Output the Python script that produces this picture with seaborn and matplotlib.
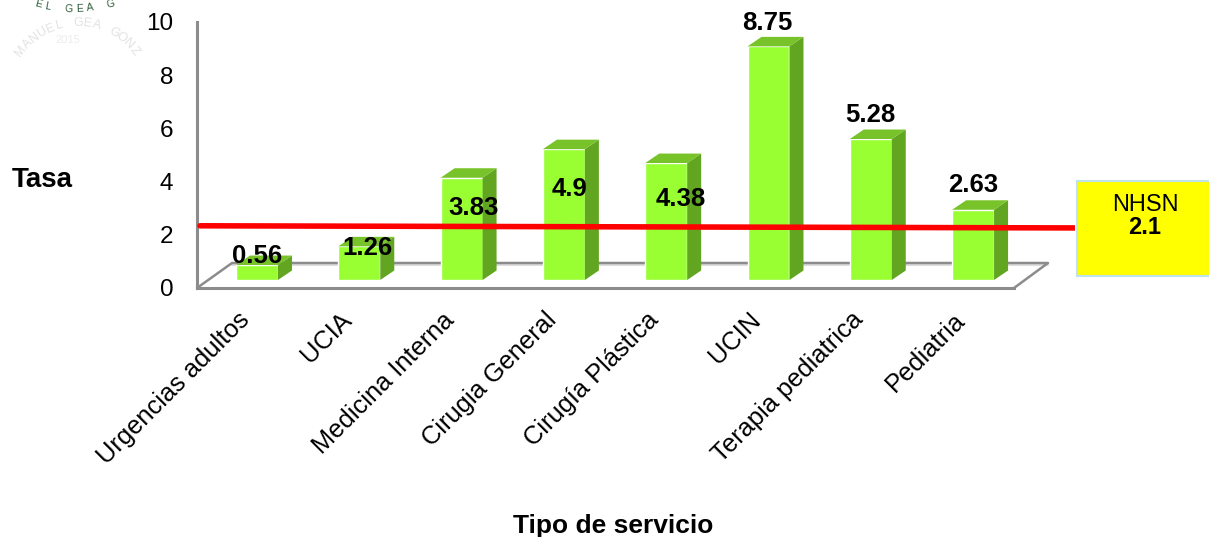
import math
import matplotlib
matplotlib.use("Agg")
import matplotlib.pyplot as plt
import pandas as pd
import seaborn as sns
from matplotlib.patches import Polygon, Rectangle
from matplotlib.transforms import Affine2D, ScaledTranslation

categories = ["Urgencias adultos", "UCIA", "Medicina Interna", "Cirugia General",
              "Cirugía Plástica", "UCIN", "Terapia pediatrica", "Pediatria"]
rates = [0.56, 1.26, 3.83, 4.9, 4.38, 8.75, 5.28, 2.63]
y_ticks = [0, 2, 4, 6, 8, 10]
benchmark_name = "NHSN"
benchmark_value = 2.1
# the reference line as drawn: slightly tilted across the chart
benchmark_drawn_y = [2.03, 1.95]

sns.set_theme(style="white")
plt.rcParams["font.family"] = ["Liberation Sans", "DejaVu Sans"]

W, H = 1209, 537
fig = plt.figure(figsize=(W / 100, H / 100), dpi=100, facecolor="white")
px = Affine2D().scale(1 / W, -1 / H).translate(0, 1) + fig.transFigure


def axes_box(l, t, r, b):
    return [l / W, 1 - b / H, (r - l) / W, (b - t) / H]


GRAY = "#8c8c8c"
INK = "#000000"

# back wall: carries the value scale
wall = fig.add_axes(axes_box(197, 22, 1014, 288), zorder=1)
wall.set_facecolor("none")
wall.set_ylim(0, 10)
wall.set_xticks([])
wall.set_yticks(y_ticks)
wall.tick_params(axis="y", length=0, pad=17, labelsize=17.5, labelcolor=INK)
for s in ("top", "right"):
    wall.spines[s].set_visible(False)
for s in ("left", "bottom"):
    wall.spines[s].set_color(GRAY)
    wall.spines[s].set_linewidth(2.2)

# floor of the 3D frame
fig.add_artist(plt.Line2D([232, 1048], [265, 265], transform=px, color="#dedede", lw=1.5, zorder=1))
fig.add_artist(plt.Line2D([197, 232, 1048, 1014], [288, 263, 263, 288], transform=px,
                          color=GRAY, lw=1.8, zorder=1))

# bars
ax = fig.add_axes(axes_box(197, 13, 1075, 288), zorder=2)
ax.set_facecolor("none")
df = pd.DataFrame({"Tipo de servicio": categories, "Tasa": rates})
sns.barplot(data=df, x="Tipo de servicio", y="Tasa", color="#99FF33", saturation=1,
            width=0.41, ax=ax, zorder=3)
ax.set_xlim((197 - 257) / 102.3, (1075 - 257) / 102.3)
ax.set_ylim(-0.3, 10)
ax.set_yticks([])
for s in ax.spines.values():
    s.set_visible(False)

dx, dy = 14 / 102.3, 9.5 / 26.7
for bar in ax.patches:
    x0, w, h = bar.get_x(), bar.get_width(), bar.get_height()
    x1 = x0 + w
    ax.add_patch(Polygon([(x1, 0), (x1 + dx, dy), (x1 + dx, h + dy), (x1, h)],
                         facecolor="#62A520", edgecolor="none", zorder=3))
    ax.add_patch(Polygon([(x0, h), (x0 + dx, h + dy), (x1 + dx, h + dy), (x1, h)],
                         facecolor="#77C329", edgecolor="none", zorder=3, clip_on=False))

ax.tick_params(axis="x", length=0, pad=12)
ax.set_xticks(range(len(categories)))
ax.set_xticklabels(categories, rotation=45, ha="right", va="top", rotation_mode="anchor",
                   fontsize=18.3, color=INK)
shift = ScaledTranslation(-20 / 100, -3 / 100, fig.dpi_scale_trans)
for lab in ax.get_xticklabels():
    lab.set_transform(lab.get_transform() + shift)

# benchmark line
line_x = [(200 - 257) / 102.3, (1075 - 257) / 102.3]
sns.lineplot(x=line_x, y=benchmark_drawn_y, color="#FF0000", lw=4, ax=ax, zorder=4)
ax.set_xlim((197 - 257) / 102.3, (1075 - 257) / 102.3)
ax.set_ylim(-0.3, 10)

# data labels (offset in pixels from each bar's top-centre)
label_offsets = [(0, 9), (8, -2), (12, -30), (6, -40), (15, -36), (-1, 23), (0, 24), (0, 25)]
for i, (v, (ox, oy)) in enumerate(zip(rates, label_offsets)):
    ax.annotate(str(v), (i, v), xytext=(ox * 0.72, oy * 0.72), textcoords="offset points",
                ha="center", va="center", fontsize=18.5, fontweight="bold", color=INK,
                zorder=6, annotation_clip=False)

# axis titles
ax.set_xlabel("Tipo de servicio", fontsize=19, fontweight="bold", color=INK)
ax.xaxis.set_label_coords(613 / W, 1 - 526 / H, transform=fig.transFigure)
ax.xaxis.label.set_va("center")
ax.set_ylabel("Tasa", fontsize=20, fontweight="bold", color=INK, rotation=0)
ax.yaxis.set_label_coords(42 / W, 1 - 180 / H, transform=fig.transFigure)
ax.yaxis.label.set_va("center")
ax.yaxis.label.set_ha("center")

# benchmark box
fig.add_artist(Rectangle((1077, 181), 140, 95, transform=px, facecolor="#FFFF00",
                         edgecolor="#BFE3EA", lw=1.5, zorder=5))
fig.text(1145 / W, 1 - 205 / H, benchmark_name, ha="center", va="center",
         fontsize=17, color=INK, zorder=6)
fig.text(1145 / W, 1 - 227 / H, str(benchmark_value), ha="center", va="center",
         fontsize=17, fontweight="bold", color=INK, zorder=6)


# faint institutional logo fragments, top left, set letter by letter along arcs
def arc_text(text, cx, cy, r, a0, a1, size, color, smile):
    n = len(text)
    for i, ch in enumerate(text):
        a = math.radians(a0 + (a1 - a0) * i / (n - 1))
        x = cx + r * math.sin(a)
        y = cy + r * math.cos(a) if smile else cy - r * math.cos(a)
        rot = math.degrees(a) if smile else -math.degrees(a)
        fig.text(x / W, 1 - y / H, ch, ha="center", va="center", fontsize=size,
                 color=color, rotation=rot, zorder=6)


arc_text("EL GEA G", 74, -131, 140, -15, 15, 7.5, "#2f5d3a", True)
arc_text("MANUEL GEA GONZ", 78, 95, 72, -52, 52, 9, "#e2e2e2", False)
fig.text(68 / W, 1 - 40 / H, "2015", ha="center", va="center", fontsize=8,
         color="#ececec", zorder=6)

fig.savefig("out.png", dpi=100)
